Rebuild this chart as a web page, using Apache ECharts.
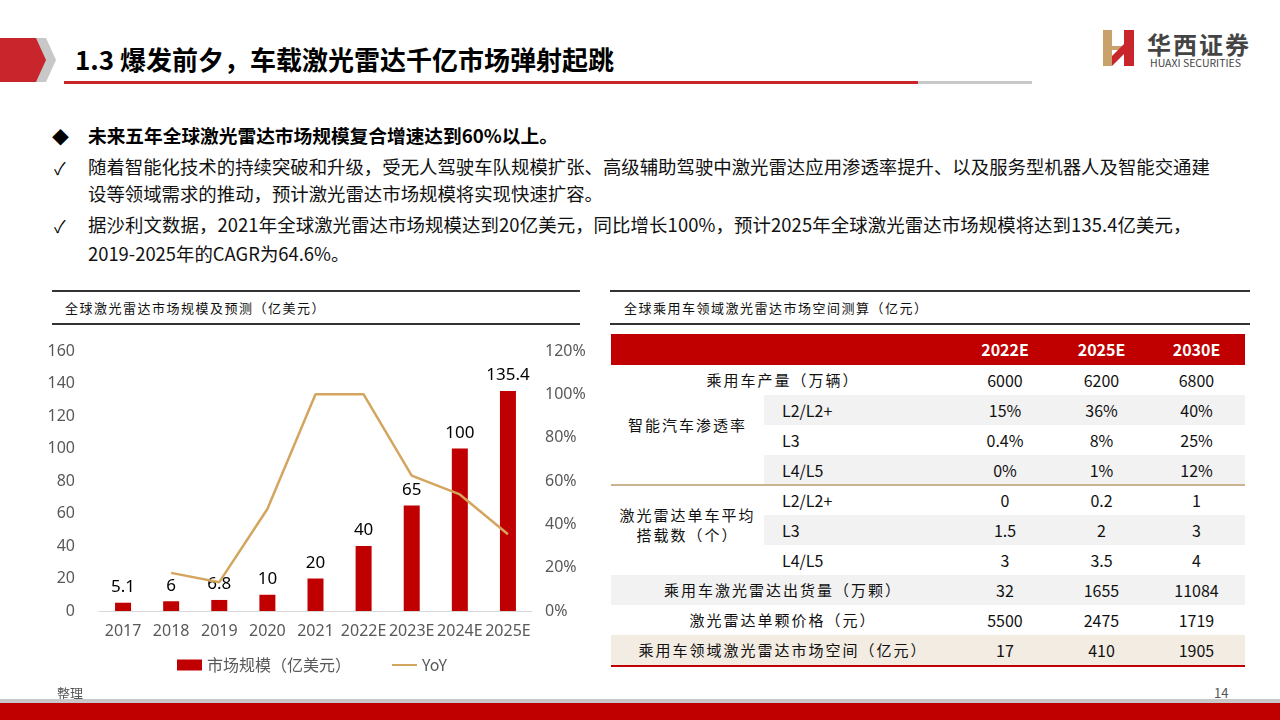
<!DOCTYPE html>
<html><head><meta charset="utf-8">
<script src="https://cdn.jsdelivr.net/npm/echarts@6/dist/echarts.min.js"></script>
<style>
html,body{margin:0;padding:0;width:1280px;height:720px;overflow:hidden;background:#fff;font-family:"Noto Sans CJK SC","Noto Sans",sans-serif;}
.abs{position:absolute;white-space:nowrap;}
#chart{position:absolute;left:0;top:0;width:600px;height:720px;}
.cell{position:absolute;height:30px;line-height:30px;font-size:15px;color:#111;text-align:center;}
.cn{letter-spacing:2px;}
</style></head>
<body>
<script>
// ---- chart data ----
const years = ['2017','2018','2019','2020','2021','2022E','2023E','2024E','2025E'];
const marketSize = [5.1, 6, 6.8, 10, 20, 40, 65, 100, 135.4];
const yoy = [null, 0.176, 0.133, 0.471, 1.0, 1.0, 0.625, 0.538, 0.354];
const leftTicks = [0, 160, 20];
const rightTicks = [0, 1.2, 0.2];
// ---- table data ----
const tableCols = ['2022E','2025E','2030E'];
const rowLabels = ['乘用车产量（万辆）','L2/L2+','L3','L4/L5','L2/L2+','L3','L4/L5','乘用车激光雷达出货量（万颗）','激光雷达单颗价格（元）','乘用车领域激光雷达市场空间（亿元）'];
const groupLabels = ['智能汽车渗透率','激光雷达单车平均<br>搭载数（个）'];
const col2022 = ['6000','15%','0.4%','0%','0','1.5','3','32','5500','17'];
const col2025 = ['6200','36%','8%','1%','0.2','2','3.5','1655','2475','410'];
const col2030 = ['6800','40%','25%','12%','1','3','4','11084','1719','1905'];
</script>

<!-- header -->
<svg class="abs" style="left:0;top:36px" width="70" height="50">
  <polygon points="8,2 46,2 56,24 46,46 8,46 18,24" fill="#C8C8C8"/>
  <polygon points="0,2 36,2 46,24 36,46 0,46" fill="#C8262C"/>
</svg>
<div class="abs" style="left:75px;top:40px;font-size:26px;font-weight:bold;color:#000;">1.3 爆发前夕，车载激光雷达千亿市场弹射起跳</div>
<div class="abs" style="left:64px;top:81px;width:854px;height:3px;background:#C8262C;"></div>
<div class="abs" style="left:918px;top:81px;width:114px;height:3px;background:#C8C8C8;"></div>

<!-- logo -->
<svg class="abs" style="left:1100px;top:26px" width="42" height="42">
  <polygon points="3,4 12,4 12,40 3,40" fill="#C9A26B"/>
  <polygon points="12,20 24,20 24,24 12,24" fill="#C9A26B"/>
  <polygon points="24,4 34,4 34,40 24,40" fill="#C8262C"/>
  <polygon points="12,40 12,30 34,8 34,18" fill="#C8262C"/>
</svg>
<div class="abs" style="left:1147px;top:26px;font-size:24px;font-weight:bold;color:#444;letter-spacing:2px;">华西证券</div>
<div class="abs" style="left:1150px;top:55px;font-size:10.5px;color:#444;">HUAXI SECURITIES</div>

<!-- bullets -->
<div class="abs" style="left:52px;top:124px;font-size:17px;color:#000;">◆</div>
<div class="abs" style="left:88px;top:121px;font-size:18.7px;font-weight:bold;color:#000;">未来五年全球激光雷达市场规模复合增速达到60%以上。</div>
<div class="abs" style="left:54px;top:155px;font-size:17px;color:#000;">✓</div>
<div class="abs" style="left:88px;top:153px;font-size:18.4px;color:#111;">随着智能化技术的持续突破和升级，受无人驾驶车队规模扩张、高级辅助驾驶中激光雷达应用渗透率提升、以及服务型机器人及智能交通建</div>
<div class="abs" style="left:88px;top:180px;font-size:18.4px;color:#111;">设等领域需求的推动，预计激光雷达市场规模将实现快速扩容。</div>
<div class="abs" style="left:54px;top:213px;font-size:17px;color:#000;">✓</div>
<div class="abs" style="left:88px;top:211px;font-size:18.4px;color:#111;letter-spacing:0.1px;">据沙利文数据，2021年全球激光雷达市场规模达到20亿美元，同比增长100%，预计2025年全球激光雷达市场规模将达到135.4亿美元，</div>
<div class="abs" style="left:88px;top:240px;font-size:18.4px;color:#111;">2019-2025年的CAGR为64.6%。</div>

<!-- chart title -->
<div class="abs" style="left:52px;top:290px;width:528px;height:2px;background:#333;"></div>
<div class="abs" style="left:65px;top:298px;font-size:13px;color:#111;letter-spacing:1.5px;">全球激光雷达市场规模及预测（亿美元）</div>
<div class="abs" style="left:52px;top:323px;width:528px;height:2px;background:#333;"></div>

<!-- table title -->
<div class="abs" style="left:610px;top:290px;width:640px;height:2px;background:#333;"></div>
<div class="abs" style="left:624px;top:298px;font-size:13px;color:#111;letter-spacing:1.5px;">全球乘用车领域激光雷达市场空间测算（亿元）</div>
<div class="abs" style="left:610px;top:323px;width:640px;height:2px;background:#333;"></div>

<div id="table"></div>
<div id="chart"></div>

<!-- footer -->
<div class="abs" style="left:57px;top:683px;font-size:13px;color:#555;">整理</div>
<div class="abs" style="left:1214px;top:683px;font-size:13px;color:#555;">14</div>
<div class="abs" style="left:0;top:699px;width:1280px;height:4px;background:#C8C8C8;"></div>
<div class="abs" style="left:0;top:703px;width:1280px;height:17px;background:#C00000;"></div>

<script>
// ---- build table ----
(function(){
  const t = document.getElementById('table');
  const X0 = 611, XS = 764, X3 = 955, X4 = 1055, X5 = 1148, XE = 1245;
  const top0 = 365, rh = 30;
  let h = '';
  h += `<div class="abs" style="left:${X0}px;top:334px;width:${XE-X0}px;height:31px;background:#C00000;"></div>`;
  const colX = [[X3,X4],[X4,X5],[X5,XE]];
  tableCols.forEach((c,i)=>{
    h += `<div class="cell" style="left:${colX[i][0]}px;top:334px;width:${colX[i][1]-colX[i][0]}px;height:31px;line-height:31px;color:#fff;font-weight:bold;font-size:16px;">${c}</div>`;
  });
  const fullRows = [0,7,8,9];
  const partShade = [1,3,5];
  const fullShade = {7:'#F2F2F2', 9:'#F3ECE2'};
  const cols = [col2022,col2025,col2030];
  rowLabels.forEach((lab,r)=>{
    const y = top0 + r*rh;
    if (partShade.includes(r)) h += `<div class="abs" style="left:${XS}px;top:${y}px;width:${XE-XS}px;height:${rh}px;background:#F2F2F2;"></div>`;
    if (fullShade[r]) h += `<div class="abs" style="left:${X0}px;top:${y}px;width:${XE-X0}px;height:${rh}px;background:${fullShade[r]};"></div>`;
    if (fullRows.includes(r)) {
      h += `<div class="cell cn" style="left:${X0}px;top:${y}px;width:${X3-X0}px;">${lab}</div>`;
    } else {
      h += `<div class="cell" style="left:${XS+18}px;top:${y}px;text-align:left;font-size:16px;">${lab}</div>`;
    }
    cols.forEach((col,i)=>{
      h += `<div class="cell" style="left:${colX[i][0]}px;top:${y}px;width:${colX[i][1]-colX[i][0]}px;font-size:16px;">${col[r]}</div>`;
    });
  });
  h += `<div class="abs cn" style="left:${X0}px;top:${top0+rh+30-11}px;width:${XS-X0}px;text-align:center;font-size:15px;color:#111;">${groupLabels[0]}</div>`;
  h += `<div class="abs cn" style="left:${X0}px;top:${top0+4*rh+20}px;width:${XS-X0}px;text-align:center;font-size:15px;line-height:20px;color:#111;white-space:normal;">${groupLabels[1]}</div>`;
  h += `<div class="abs" style="left:${X0}px;top:${top0+4*rh-1}px;width:${XE-X0}px;height:2px;background:#C9B48F;"></div>`;
  h += `<div class="abs" style="left:${X0}px;top:${top0+10*rh}px;width:${XE-X0}px;height:2px;background:#C00000;"></div>`;
  t.innerHTML = h;
})();

// ---- chart ----
const chart = echarts.init(document.getElementById('chart'), null, {renderer:'canvas'});
const axisLabel = {color:'#595959', fontSize:16, fontFamily:'"Noto Sans","Liberation Sans",sans-serif'};
chart.setOption({
  animation:false,
  grid:{left:99, top:351, width:433, height:260, containLabel:false},
  legend:{
    left:172, top:652, itemGap:40, itemWidth:25, itemHeight:11,
    textStyle:{color:'#595959', fontSize:16, fontFamily:'"Noto Sans CJK SC",sans-serif'},
    data:[{name:'市场规模（亿美元）', icon:'rect'},{name:'YoY', itemStyle:{opacity:0}}]
  },
  xAxis:{type:'category', data:years,
    axisLine:{lineStyle:{color:'#D9D9D9', width:1}}, axisTick:{show:false},
    axisLabel:Object.assign({margin:12, interval:0}, axisLabel)},
  yAxis:[
    {type:'value', min:leftTicks[0], max:leftTicks[1], interval:leftTicks[2],
     axisLine:{show:false}, axisTick:{show:false}, splitLine:{show:false},
     axisLabel:Object.assign({margin:24}, axisLabel)},
    {type:'value', min:rightTicks[0], max:rightTicks[1], interval:rightTicks[2],
     axisLine:{show:false}, axisTick:{show:false}, splitLine:{show:false},
     axisLabel:Object.assign({margin:13, formatter:v=>Math.round(v*100)+'%'}, axisLabel)}
  ],
  series:[
    {name:'市场规模（亿美元）', type:'bar', data:marketSize, barWidth:16, yAxisIndex:0,
     itemStyle:{color:'#C00000'},
     label:{show:true, position:'top', color:'#000', fontSize:17, distance:7,
            fontFamily:'"Noto Sans","Liberation Sans",sans-serif'}},
    {name:'YoY', type:'line', data:yoy, yAxisIndex:1, symbol:'none', connectNulls:false,
     lineStyle:{color:'#D4A55E', width:2.5}, itemStyle:{color:'#D4A55E'}, z:5}
  ]
});
</script>
</body></html>
